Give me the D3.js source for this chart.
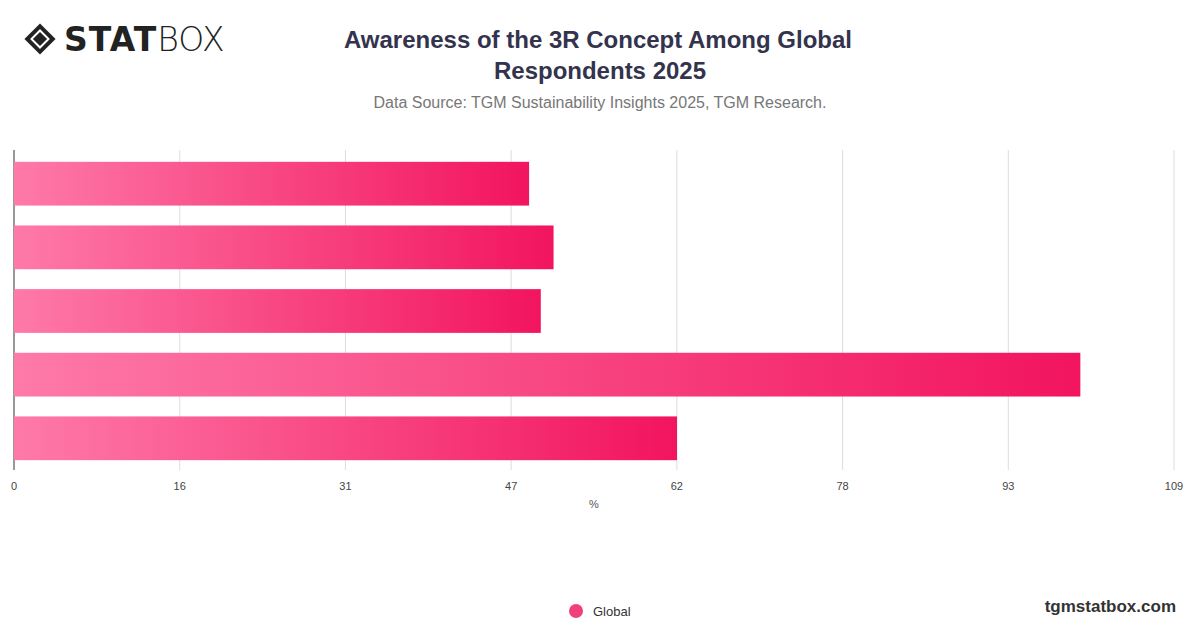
<!DOCTYPE html>
<html><head><meta charset="utf-8">
<script src="https://cdn.jsdelivr.net/npm/d3@7"></script>
<style>body{margin:0;background:#fff;font-family:"Helvetica Neue",Arial,"Liberation Sans",sans-serif}</style>
</head><body>
<svg id="chart" width="1200" height="628"></svg>
<script>
const categories = ["Reduce", "Reuse", "Recycle", "Any of the 3R", "All of the 3R"];
const values = [48.4, 50.7, 49.5, 100.2, 62.3];
const tickLabels = ["0", "16", "31", "47", "62", "78", "93", "109"];
const axisMax = 109;

const svg = d3.select("#chart");
const margin = { left: 14, right: 26, top: 150 };
const W = 1200;

// logo
const logo = svg.append("g").attr("transform", "translate(26,25)");
logo.append("rect").attr("x", 3).attr("y", 3).attr("width", 22).attr("height", 22)
    .attr("transform", "rotate(45 14 14)").attr("fill", "#222");
logo.append("rect").attr("x", 8).attr("y", 8).attr("width", 12).attr("height", 12)
    .attr("transform", "rotate(45 14 14)").attr("fill", "none").attr("stroke", "#fff").attr("stroke-width", 2);
svg.append("text").attr("x", 64).attr("y", 51).attr("font-size", 33).attr("font-weight", 900)
    .attr("fill", "#222").attr("font-family", "'DejaVu Sans',sans-serif").attr("letter-spacing", 1)
    .text("STAT").append("tspan").attr("font-weight", 300).attr("letter-spacing", 0).text("BOX");

// title
const title = svg.append("text").attr("text-anchor", "middle").attr("font-size", 24)
    .attr("font-weight", 700).attr("fill", "#33334d");
title.append("tspan").attr("x", 598).attr("y", 48).text("Awareness of the 3R Concept Among Global");
title.append("tspan").attr("x", 600).attr("y", 79).text("Respondents  2025");
svg.append("text").attr("x", 600).attr("y", 108).attr("text-anchor", "middle")
    .attr("font-size", 16).attr("fill", "#777").text("Data Source: TGM Sustainability Insights 2025, TGM Research.");

const x = d3.scaleLinear().domain([0, axisMax]).range([margin.left, W - margin.right]);
const y = d3.scaleBand().domain(categories).range([margin.top + 1, margin.top + 321]).paddingInner(0.3125).paddingOuter(0.17);
const tickPos = tickLabels.map((t, i) => i * axisMax / (tickLabels.length - 1));

const defs = svg.append("defs");
const grad = defs.append("linearGradient").attr("id", "barGrad");
grad.append("stop").attr("offset", "0%").attr("stop-color", "#fe7aa8");
grad.append("stop").attr("offset", "100%").attr("stop-color", "#f2145f");

// grid
svg.append("g").selectAll("line").data(tickPos.slice(1)).join("line")
    .attr("x1", d => x(d)).attr("x2", d => x(d))
    .attr("y1", margin.top).attr("y2", 470).attr("stroke", "#ddd");
svg.append("line").attr("x1", x(0)).attr("x2", x(0)).attr("y1", margin.top).attr("y2", 470)
    .attr("stroke", "#333");

svg.append("g").selectAll("rect").data(values).join("rect")
    .attr("x", x(0)).attr("y", (d, i) => y(categories[i]))
    .attr("width", d => x(d) - x(0)).attr("height", y.bandwidth())
    .attr("fill", "url(#barGrad)");

svg.append("g").selectAll("text").data(tickPos).join("text")
    .attr("x", d => x(d)).attr("y", 490).attr("text-anchor", "middle")
    .attr("font-size", 11).attr("fill", "#444").text((d, i) => tickLabels[i]);
svg.append("text").attr("x", 594).attr("y", 508).attr("text-anchor", "middle")
    .attr("font-size", 11).attr("fill", "#555").text("%");

// legend
svg.append("circle").attr("cx", 576).attr("cy", 611).attr("r", 7).attr("fill", "#f0407c");
svg.append("text").attr("x", 593).attr("y", 616).attr("font-size", 13).attr("fill", "#333").text("Global");
svg.append("text").attr("x", 1176).attr("y", 612).attr("text-anchor", "end").attr("font-size", 17)
    .attr("font-weight", 700).attr("fill", "#333").text("tgmstatbox.com");
</script>
</body></html>
